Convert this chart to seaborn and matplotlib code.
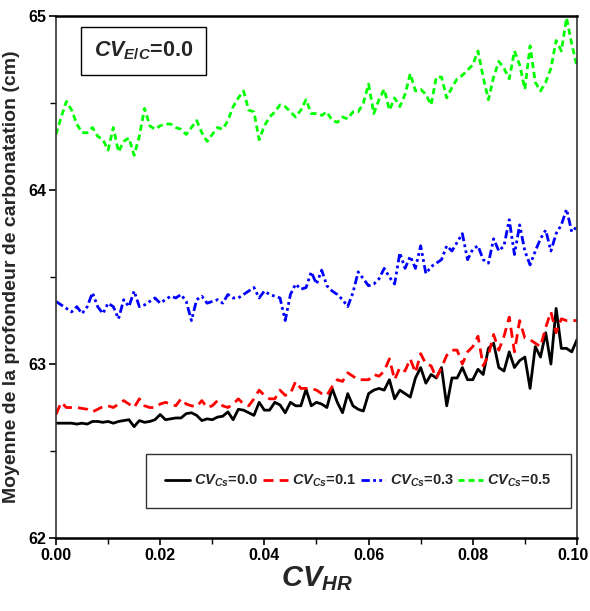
import numpy as np
import pandas as pd
import matplotlib
matplotlib.use("Agg")
import matplotlib.pyplot as plt
import matplotlib.transforms as mtransforms
import seaborn as sns

# CV_HR axis: 0.000 .. 0.100 in steps of 0.001
cv_hr = [round(i * 0.001, 3) for i in range(101)]

cs_00 = [62.66, 62.66, 62.66, 62.66, 62.655, 62.66, 62.655, 62.67, 62.67, 62.665,
         62.67, 62.66, 62.67, 62.675, 62.68, 62.64, 62.675, 62.665, 62.67, 62.68,
         62.71, 62.68, 62.685, 62.69, 62.69, 62.715, 62.72, 62.705, 62.675, 62.685,
         62.68, 62.695, 62.70, 62.725, 62.68, 62.74, 62.735, 62.72, 62.705, 62.78,
         62.735, 62.735, 62.78, 62.765, 62.72, 62.78, 62.76, 62.76, 62.855, 62.76,
         62.78, 62.77, 62.75, 62.86, 62.78, 62.72, 62.83, 62.76, 62.74, 62.73,
         62.83, 62.85, 62.86, 62.85, 62.91, 62.80, 62.85, 62.83, 62.81, 62.92,
         62.98, 62.89, 62.94, 62.92, 62.98, 62.76, 62.92, 62.92, 62.98, 62.91,
         62.91, 62.97, 62.94, 63.09, 63.12, 62.98, 62.96, 63.07, 62.98, 63.02,
         63.04, 62.86, 63.10, 63.04, 63.18, 63.00, 63.32, 63.09, 63.09, 63.07,
         63.14]

cs_01 = [62.71, 62.78, 62.75, 62.75, 62.75, 62.745, 62.74, 62.725, 62.74, 62.755,
         62.76, 62.75, 62.77, 62.79, 62.77, 62.75, 62.80, 62.76, 62.75, 62.75,
         62.77, 62.78, 62.77, 62.76, 62.80, 62.77, 62.76, 62.755, 62.79, 62.75,
         62.76, 62.79, 62.76, 62.75, 62.77, 62.80, 62.77, 62.76, 62.80, 62.85,
         62.82, 62.80, 62.80, 62.85, 62.82, 62.83, 62.90, 62.86, 62.86, 62.86,
         62.85, 62.83, 62.82, 62.87, 62.91, 62.90, 62.95, 62.93, 62.91, 62.91,
         62.91, 62.94, 62.93, 62.96, 63.03, 62.91, 62.98, 62.96, 63.03, 62.95,
         63.06, 63.00, 62.99, 62.92, 62.98, 63.05, 63.08, 63.08, 63.00, 63.07,
         63.10, 63.16, 62.99, 63.05, 63.17, 63.08, 63.16, 63.27, 63.07, 63.25,
         63.15, 63.14, 63.12, 63.10, 63.21, 63.30, 63.18, 63.26, 63.25, 63.25,
         63.25]

cs_03 = [63.36, 63.34, 63.32, 63.30, 63.33, 63.29, 63.33, 63.41, 63.33, 63.29,
         63.35, 63.33, 63.26, 63.37, 63.33, 63.42, 63.33, 63.34, 63.36, 63.38,
         63.35, 63.37, 63.39, 63.38, 63.40, 63.36, 63.25, 63.37, 63.39, 63.35,
         63.36, 63.37, 63.35, 63.40, 63.38, 63.38, 63.40, 63.42, 63.44, 63.38,
         63.42, 63.40, 63.39, 63.38, 63.25, 63.40, 63.46, 63.43, 63.44, 63.53,
         63.46, 63.54, 63.45, 63.42, 63.40, 63.37, 63.33, 63.41, 63.53, 63.49,
         63.45, 63.46, 63.49, 63.55, 63.50, 63.46, 63.64, 63.55, 63.62, 63.55,
         63.68, 63.52, 63.56, 63.58, 63.60, 63.68, 63.65, 63.70, 63.75, 63.60,
         63.66, 63.68, 63.60, 63.58, 63.72, 63.65, 63.68, 63.83, 63.63, 63.80,
         63.65, 63.57, 63.65, 63.72, 63.77, 63.65, 63.75, 63.80, 63.89, 63.76,
         63.79]

cs_05 = [64.32, 64.42, 64.51, 64.46, 64.38, 64.33, 64.33, 64.36, 64.31, 64.29,
         64.23, 64.36, 64.22, 64.28, 64.30, 64.20, 64.31, 64.47, 64.37, 64.35,
         64.37, 64.38, 64.38, 64.36, 64.35, 64.32, 64.36, 64.40, 64.33, 64.28,
         64.32, 64.36, 64.35, 64.40, 64.48, 64.53, 64.57, 64.46, 64.45, 64.29,
         64.37, 64.42, 64.45, 64.49, 64.48, 64.45, 64.42, 64.46, 64.52, 64.44,
         64.44, 64.43, 64.45, 64.40, 64.39, 64.42, 64.41, 64.45, 64.45, 64.50,
         64.61, 64.44, 64.52, 64.58, 64.46, 64.53, 64.48, 64.55, 64.67, 64.57,
         64.58, 64.55, 64.49, 64.65, 64.65, 64.53, 64.59, 64.64, 64.66, 64.69,
         64.72, 64.80, 64.65, 64.52, 64.65, 64.74, 64.70, 64.64, 64.80, 64.72,
         64.58, 64.83, 64.62, 64.57, 64.62, 64.70, 64.86, 64.80, 64.99, 64.84,
         64.71]

series_labels = [r"$CV_{Cs}$=0.0", r"$CV_{Cs}$=0.1", r"$CV_{Cs}$=0.3", r"$CV_{Cs}$=0.5"]
series_values = [cs_00, cs_01, cs_03, cs_05]
series_colors = ["black", "#ff0000", "#0000ff", "#00ff00"]
series_dashes = [None, (3.6, 2.2), (3.0, 1.2, 1.0, 1.2, 1.0, 1.2), (2.2, 1.4)]

sns.set_style("white")
plt.rcParams["font.family"] = ["Liberation Sans", "DejaVu Sans"]
plt.rcParams["font.weight"] = "bold"
plt.rcParams["mathtext.fontset"] = "custom"
plt.rcParams["mathtext.it"] = "Liberation Sans:italic:bold"
plt.rcParams["mathtext.rm"] = "Liberation Sans:bold"
plt.rcParams["mathtext.bf"] = "Liberation Sans:bold"

fig = plt.figure(figsize=(5.9, 6.11), dpi=100)
ax = fig.add_axes([0.0949, 0.1195, 0.883, 0.854])

frames = []
for lab, vals in zip(series_labels, series_values):
    frames.append(pd.DataFrame({"cv_hr": cv_hr, "depth": vals, "serie": lab}))
df = pd.concat(frames, ignore_index=True)

for lab, col, dsh in zip(series_labels, series_colors, series_dashes):
    sub = df[df["serie"] == lab]
    sns.lineplot(data=sub, x="cv_hr", y="depth", color=col, linewidth=2.0,
                 ax=ax, label=lab, legend=False)
    line = ax.lines[-1]
    if dsh is None:
        line.set_linestyle("-")
    else:
        line.set_dashes(dsh)

ax.set_xlim(0.0, 0.10)
ax.set_ylim(62.0, 65.0)
ax.set_xticks([0.00, 0.02, 0.04, 0.06, 0.08, 0.10])
ax.set_xticklabels(["0.00", "0.02", "0.04", "0.06", "0.08", "0.10"])
ax.set_xticks([0.01, 0.03, 0.05, 0.07, 0.09], minor=True)
ax.set_yticks([62, 63, 64, 65])
ax.set_yticklabels(["62", "63", "64", "65"])
ax.set_yticks([62.5, 63.5, 64.5], minor=True)
ax.tick_params(axis="both", which="major", direction="out", length=5, width=1.2,
               labelsize=11.5, pad=2, colors="black")
ax.tick_params(axis="both", which="minor", direction="out", length=4, width=1.0,
               colors="black")
ax.tick_params(top=False, right=False, which="both")
ax.tick_params(bottom=True, left=True, which="both")
for side in ["top", "bottom"]:
    ax.spines[side].set_linewidth(1.8)
    ax.spines[side].set_color("black")
for side in ["left", "right"]:
    ax.spines[side].set_linewidth(1.2)
    ax.spines[side].set_color("#333333")

# keep the last x tick label inside the figure edge
last_lab = ax.get_xticklabels()[-1]
last_lab.set_transform(last_lab.get_transform() +
                       mtransforms.ScaledTranslation(-4 / 100, 0, fig.dpi_scale_trans))

ax.set_xlabel(r"$CV_{HR}$", fontsize=21, labelpad=1)
ax.set_ylabel("Moyenne de la profondeur de carbonatation (cm)",
              fontweight="bold", fontsize=14, labelpad=6)

ax.text(0.072, 0.955, r"$CV_{E/C}$=0.0", transform=ax.transAxes, fontsize=15.5,
        ha="left", va="top",
        bbox=dict(boxstyle="square,pad=0.6", fc="white", ec="black", lw=1.0))

leg = ax.legend(loc="lower right", bbox_to_anchor=(0.988, 0.057), ncol=4,
                fontsize=10.5, frameon=True, fancybox=False, edgecolor="black",
                handlelength=1.7, handletextpad=0.3, columnspacing=0.3,
                borderpad=1.3, borderaxespad=0.0)
leg.get_frame().set_linewidth(1.0)

fig.savefig("out.png", dpi=100)
